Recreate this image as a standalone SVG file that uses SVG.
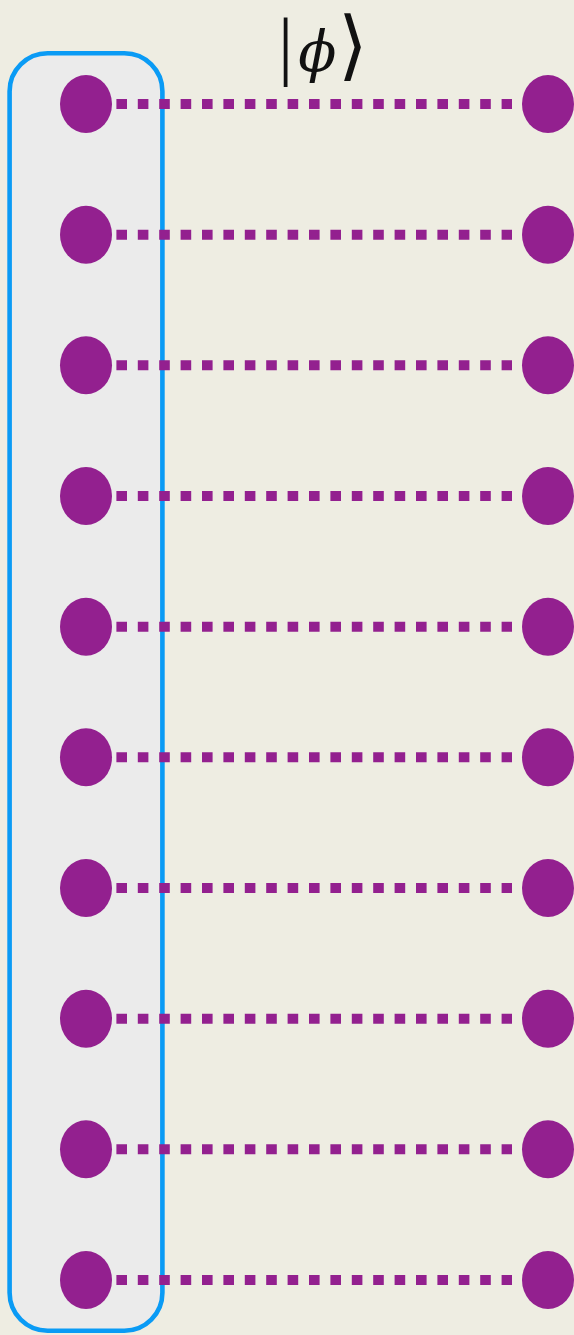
<svg xmlns="http://www.w3.org/2000/svg" width="574" height="1335" viewBox="0 0 574 1335">
  <style>
    .node { fill: #93208F; }
    .conn { stroke: #93208F; stroke-width: 10; stroke-dasharray: 10.6 10.8; fill: none; }
    .box { fill: #EBEBEB; stroke: #0A9BF5; stroke-width: 4.6; }
    .label { font-family: "Liberation Serif", "DejaVu Serif", serif; font-size: 76px; fill: #111; }
    .phi { font-family: "DejaVu Serif", serif; font-style: italic; font-size: 56px; }
    .ket { font-family: "DejaVu Sans", sans-serif; font-weight: 200; font-size: 76px; }
  </style>
  <rect x="0" y="0" width="574" height="1335" fill="#EEEDE2"/>
  <g id="register">
    <rect class="box" x="9.6" y="53.3" width="152.8" height="1277.4" rx="38" ry="38"/>
  </g>
  <g id="label-phi">
    <text class="label" x="278" y="71">|<tspan class="phi" dx="5">ϕ</tspan><tspan class="ket" dx="2">⟩</tspan></text>
  </g>
  <g id="connectors">
    <line class="conn" x1="116.4" y1="104" x2="512" y2="104"/>
    <line class="conn" x1="116.4" y1="234.7" x2="512" y2="234.7"/>
    <line class="conn" x1="116.4" y1="365.3" x2="512" y2="365.3"/>
    <line class="conn" x1="116.4" y1="496" x2="512" y2="496"/>
    <line class="conn" x1="116.4" y1="626.7" x2="512" y2="626.7"/>
    <line class="conn" x1="116.4" y1="757.3" x2="512" y2="757.3"/>
    <line class="conn" x1="116.4" y1="888" x2="512" y2="888"/>
    <line class="conn" x1="116.4" y1="1018.7" x2="512" y2="1018.7"/>
    <line class="conn" x1="116.4" y1="1149.3" x2="512" y2="1149.3"/>
    <line class="conn" x1="116.4" y1="1280" x2="512" y2="1280"/>
  </g>
  <g id="left-1"><ellipse class="node" cx="86" cy="104" rx="26" ry="29"/></g>
  <g id="left-2"><ellipse class="node" cx="86" cy="234.7" rx="26" ry="29"/></g>
  <g id="left-3"><ellipse class="node" cx="86" cy="365.3" rx="26" ry="29"/></g>
  <g id="left-4"><ellipse class="node" cx="86" cy="496" rx="26" ry="29"/></g>
  <g id="left-5"><ellipse class="node" cx="86" cy="626.7" rx="26" ry="29"/></g>
  <g id="left-6"><ellipse class="node" cx="86" cy="757.3" rx="26" ry="29"/></g>
  <g id="left-7"><ellipse class="node" cx="86" cy="888" rx="26" ry="29"/></g>
  <g id="left-8"><ellipse class="node" cx="86" cy="1018.7" rx="26" ry="29"/></g>
  <g id="left-9"><ellipse class="node" cx="86" cy="1149.3" rx="26" ry="29"/></g>
  <g id="left-10"><ellipse class="node" cx="86" cy="1280" rx="26" ry="29"/></g>
  <g id="right-1"><ellipse class="node" cx="548" cy="104" rx="26" ry="29"/></g>
  <g id="right-2"><ellipse class="node" cx="548" cy="234.7" rx="26" ry="29"/></g>
  <g id="right-3"><ellipse class="node" cx="548" cy="365.3" rx="26" ry="29"/></g>
  <g id="right-4"><ellipse class="node" cx="548" cy="496" rx="26" ry="29"/></g>
  <g id="right-5"><ellipse class="node" cx="548" cy="626.7" rx="26" ry="29"/></g>
  <g id="right-6"><ellipse class="node" cx="548" cy="757.3" rx="26" ry="29"/></g>
  <g id="right-7"><ellipse class="node" cx="548" cy="888" rx="26" ry="29"/></g>
  <g id="right-8"><ellipse class="node" cx="548" cy="1018.7" rx="26" ry="29"/></g>
  <g id="right-9"><ellipse class="node" cx="548" cy="1149.3" rx="26" ry="29"/></g>
  <g id="right-10"><ellipse class="node" cx="548" cy="1280" rx="26" ry="29"/></g>
</svg>
